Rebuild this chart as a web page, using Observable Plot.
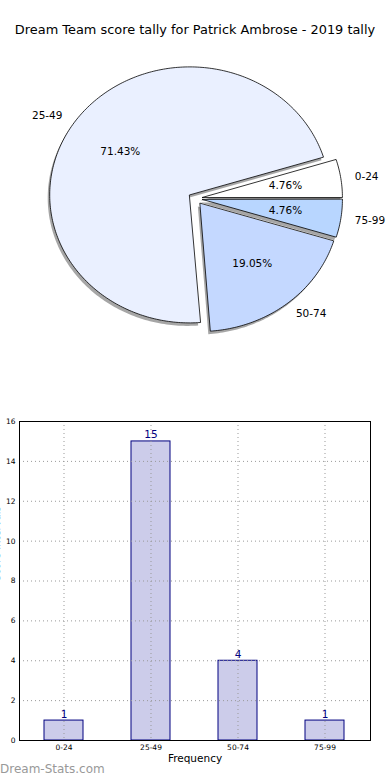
<!DOCTYPE html>
<html>
<head>
<meta charset="utf-8">
<script src="https://cdn.jsdelivr.net/npm/d3@7"></script>
<script src="https://cdn.jsdelivr.net/npm/@observablehq/plot@0.6"></script>
<style>
  html, body { margin: 0; padding: 0; background: white; }
  body { width: 390px; height: 780px; position: relative; overflow: hidden; font-family: "DejaVu Sans", sans-serif; }
  #title { position: absolute; top: 22px; left: 0; width: 390px; text-align: center; font-size: 12.9px; line-height: 16px; color: #000; z-index: 2; white-space: nowrap; }
  #pie { position: absolute; top: 0; left: 0; z-index: 1; }
  #bars { position: absolute; top: 410px; left: 0; z-index: 1; }
  #mark { position: absolute; top: 762px; left: 0; font-size: 12px; color: #999; z-index: 3; white-space: nowrap; }
</style>
</head>
<body>
<div id="title">Dream Team score tally for Patrick Ambrose - 2019 tally</div>
<div id="pie"></div>
<div id="bars"></div>
<div id="mark">Dream-Stats.com</div>
<script>
// ---- data ----
const categories = ["0-24", "25-49", "50-74", "75-99"];
const counts = [1, 15, 4, 1];
const explode = [0.05, 0.05, 0.05, 0.05];
const yTicks = [0, 2, 4, 6, 8, 10, 12, 14, 16];
const pieColors = ["#ffffff", "#eaf0ff", "#c4d8ff", "#b8d6ff"];

// ---- pie geometry (unit circle, counter-clockwise from 0 like matplotlib) ----
const total = d3.sum(counts);
let acc = 0;
const slices = categories.map((cat, i) => {
  const a0 = acc / total * 2 * Math.PI;
  acc += counts[i];
  const a1 = acc / total * 2 * Math.PI;
  const mid = (a0 + a1) / 2;
  const cx = explode[i] * Math.cos(mid), cy = explode[i] * Math.sin(mid);
  return {cat, i, a0, a1, mid, cx, cy, pct: (counts[i] / total * 100).toFixed(2) + "%"};
});
const polyPts = [];
for (const s of slices) {
  polyPts.push({cat: s.cat, x: s.cx, y: s.cy});
  const n = Math.max(4, Math.ceil((s.a1 - s.a0) / (Math.PI / 180)));
  for (let k = 0; k <= n; k++) {
    const a = s.a0 + (s.a1 - s.a0) * k / n;
    polyPts.push({cat: s.cat, x: s.cx + Math.cos(a), y: s.cy + Math.sin(a)});
  }
}
const labelPts = slices.map(s => ({
  cat: s.cat, pct: s.pct,
  lx: s.cx + 1.1 * Math.cos(s.mid), ly: s.cy + 1.1 * Math.sin(s.mid),
  px: s.cx + 0.6 * Math.cos(s.mid), py: s.cy + 0.6 * Math.sin(s.mid)
}));

const pie = Plot.plot({
  width: 390, height: 400,
  margin: 0,
  style: {background: "transparent", fontFamily: "DejaVu Sans, sans-serif"},
  x: {domain: [-1, 1], range: [55, 335], axis: null},
  y: {domain: [-1, 1], range: [326, 70], axis: null},
  color: {domain: categories, range: pieColors},
  marks: [
    Plot.line(polyPts, {x: "x", y: "y", z: "cat", fill: "#4d4d4d", fillOpacity: 0.5, stroke: "none", curve: "linear-closed", dx: -2, dy: 3}),
    Plot.line(polyPts, {x: "x", y: "y", z: "cat", fill: "cat", stroke: "black", strokeWidth: 0.8, curve: "linear-closed"}),
    Plot.text(labelPts.filter(d => d.lx < 0), {x: "lx", y: "ly", text: "cat", textAnchor: "end", fontSize: 10.5, fill: "black"}),
    Plot.text(labelPts.filter(d => d.lx >= 0), {x: "lx", y: "ly", text: "cat", textAnchor: "start", fontSize: 10.5, fill: "black"}),
    Plot.text(labelPts, {x: "px", y: "py", text: "pct", textAnchor: "middle", fontSize: 10.5, fill: "black"})
  ]
});
document.getElementById("pie").appendChild(pie);

// ---- bar chart ----
const barData = categories.map((c, i) => ({cat: c, count: counts[i]}));
const bars = Plot.plot({
  width: 390, height: 370,
  marginLeft: 19, marginRight: 20, marginTop: 11, marginBottom: 40,
  style: {background: "transparent", fontFamily: "DejaVu Sans, sans-serif"},
  x: {domain: categories, paddingInner: 0.55, paddingOuter: 0.275, label: null},
  y: {domain: [0, 16], label: null},
  marks: [
    Plot.barY(barData, {x: "cat", y: "count", fill: "#ccccea", stroke: "#000080", strokeWidth: 1}),
    Plot.gridY(yTicks, {stroke: "#999", strokeOpacity: 1, strokeDasharray: "1,3"}),
    Plot.gridX(categories, {stroke: "#999", strokeOpacity: 1, strokeDasharray: "1,3"}),
    Plot.frame({stroke: "black", strokeWidth: 1}),
    Plot.axisY(yTicks, {tickSize: 0, tickPadding: 4, fontSize: 7.5, label: null}),
    Plot.axisX(categories, {tickSize: 0, tickPadding: 4, fontSize: 7.5, label: null}),
    Plot.text(["Frequency"], {frameAnchor: "bottom", dy: 21, fontSize: 10.5, fill: "black"}),
    Plot.text(["Score Intervals"], {frameAnchor: "left", rotate: -90, dx: -23, fontSize: 10, fill: "black"}),
    Plot.text(barData, {x: "cat", y: "count", text: d => String(d.count), lineAnchor: "bottom", dy: -3, fontSize: 10.5, fill: "#000080"})
  ]
});
document.getElementById("bars").appendChild(bars);
</script>
</body>
</html>
